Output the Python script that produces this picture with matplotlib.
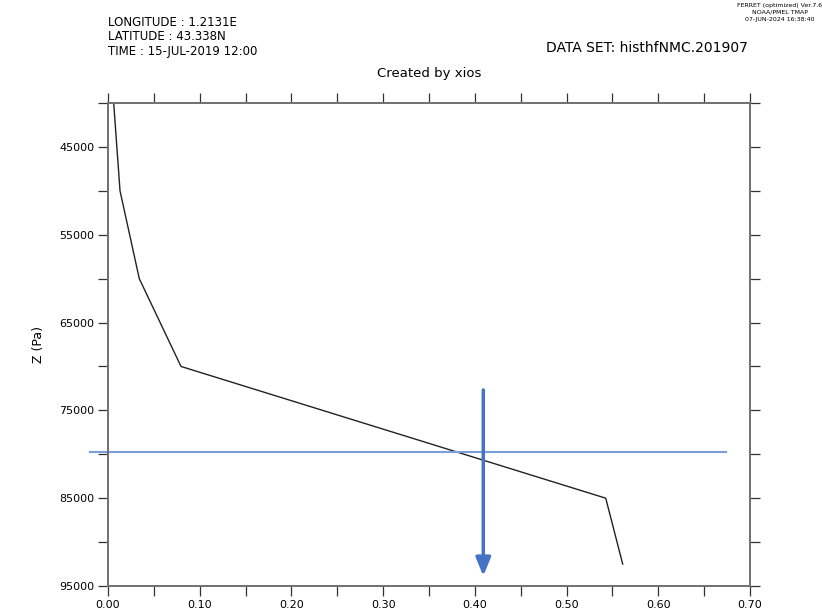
import matplotlib
matplotlib.use("Agg")
import matplotlib.pyplot as plt
import numpy as np

# Data (pressure levels in Pa and variable values)
z_levels = [40000, 50000, 60000, 70000, 85000, 92500]
values = [0.0062, 0.0131, 0.0341, 0.0796, 0.5427, 0.5612]

x_major = [0.00, 0.10, 0.20, 0.30, 0.40, 0.50, 0.60, 0.70]
x_labels = ["0.00", "0.10", "0.20", "0.30", "0.40", "0.50", "0.60", "0.70"]
y_major = [45000, 55000, 65000, 75000, 85000, 95000]
y_labels = ["45000", "55000", "65000", "75000", "85000", "95000"]

# Annotation values
hline_z = 79700
hline_x = [-0.0196, 0.6735]
arrow_x = 0.4092
arrow_z = [72680, 93860]

fig = plt.figure(figsize=(8.22, 6.10), dpi=100)
ax = fig.add_axes([108/822, 1 - 586/610, (750-108)/822, (586-103)/610])

ax.plot(values, z_levels, color="#222222", lw=1.0)

ax.set_xlim(0, 0.70)
ax.set_ylim(95000, 40000)

ax.set_xticks(np.arange(0, 0.7001, 0.05), minor=True)
ax.set_xticks(x_major)
ax.set_xticklabels(x_labels)
ax.set_yticks(np.arange(40000, 95001, 5000), minor=True)
ax.set_yticks(y_major)
ax.set_yticklabels(y_labels)

for which in ("major", "minor"):
    ax.tick_params(axis="both", which=which, direction="out", length=7.5, width=0.9,
                   color="#333333", top=True, right=True, labeltop=False, labelright=False,
                   labelsize=8, pad=2.5)
for sp in ax.spines.values():
    sp.set_color("#707070")
    sp.set_linewidth(1.4)

ax.set_ylabel("Z (Pa)", fontsize=9)
ax.yaxis.set_label_coords(-0.098, 0.5)

# Annotations
ax.plot(hline_x, [hline_z, hline_z], color="#7A9FDC", lw=1.5, clip_on=False)
ax.annotate("", xy=(arrow_x, arrow_z[1]), xytext=(arrow_x, arrow_z[0]),
            arrowprops=dict(arrowstyle="-|>,head_width=0.45,head_length=1.1",
                            lw=2.5, color="#4472C4", shrinkA=0, shrinkB=0),
            annotation_clip=False)

# Header texts
fig.text(108/822, 1 - 23/610, "LONGITUDE : 1.2131E", fontsize=8.5, va="center", ha="left")
fig.text(108/822, 1 - 37/610, "LATITUDE : 43.338N", fontsize=8.5, va="center", ha="left")
fig.text(108/822, 1 - 51/610, "TIME : 15-JUL-2019 12:00", fontsize=8.5, va="center", ha="left")
fig.text(748/822, 1 - 48/610, "DATA SET: histhfNMC.201907", fontsize=10, va="center", ha="right")
fig.text(429/822, 1 - 73/610, "Created by xios", fontsize=9.5, va="center", ha="center")
fig.text(780/822, 1 - 5/610, "FERRET (optimized) Ver.7.6", fontsize=4.5, va="center", ha="center")
fig.text(780/822, 1 - 12/610, "NOAA/PMEL TMAP", fontsize=4.5, va="center", ha="center")
fig.text(780/822, 1 - 20/610, "07-JUN-2024 16:38:40", fontsize=4.5, va="center", ha="center")

fig.savefig("out.png", dpi=100)
